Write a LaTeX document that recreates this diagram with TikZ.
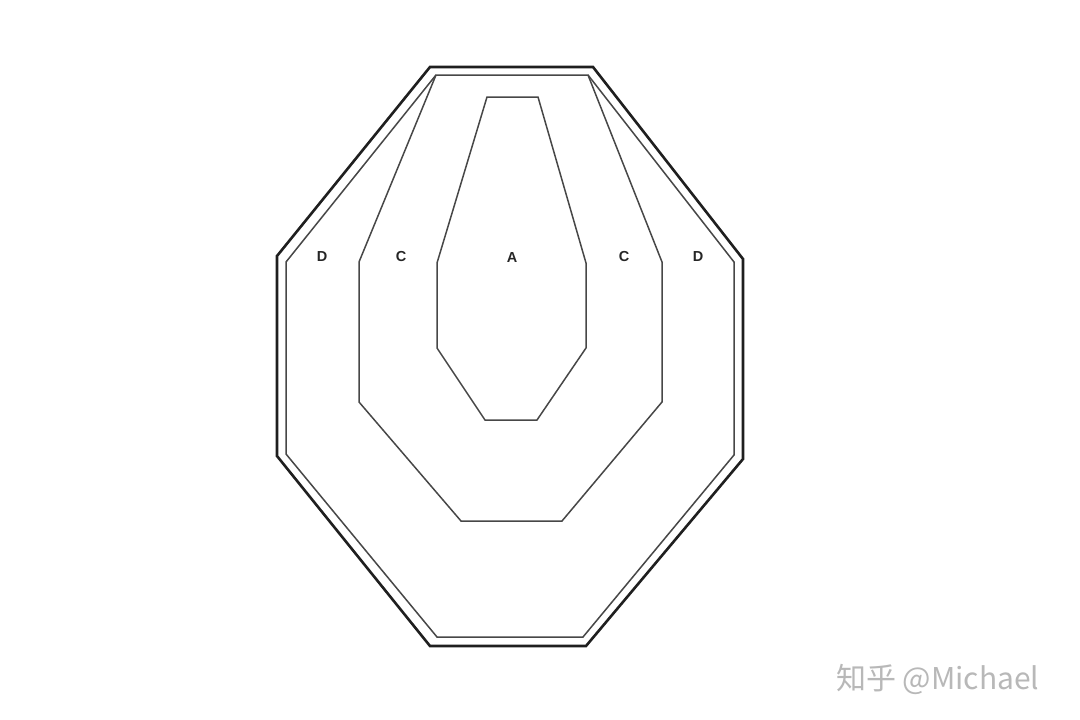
\documentclass[tikz,border=0pt]{standalone}
\usepackage{fontspec}
\setmainfont{Liberation Sans}
\newfontfamily\cjk{Noto Sans CJK SC}
\begin{document}
\begin{tikzpicture}[x=1pt,y=-1pt,
  outerline/.style={line width=2.6pt,draw=black!88,line join=miter},
  thinline/.style={line width=1.5pt,draw=black!72,line join=miter},
  zonelabel/.style={font=\bfseries\fontsize{14.5}{14.5}\selectfont,text=black!85,inner sep=0pt},
  wm/.style={font=\cjk\fontsize{30}{30}\selectfont,text=black!28,inner sep=0pt,anchor=west}]
\useasboundingbox[fill=white] (0,0) rectangle (1080,720);
% outer octagon
\draw[outerline] (430,67) -- (593,67) -- (743,259) -- (743,459) -- (586,646) -- (430,646) -- (277,456) -- (277,256) -- cycle;
% inner octagon
\coordinate (itl) at (436,75);
\coordinate (itr) at (588,75);
\draw[thinline] (itl) -- (itr) -- (734,262) -- (734,455) -- (583,637) -- (437,637) -- (286,454) -- (286,262) -- cycle;
% C zone
\draw[thinline] (itl) -- (359,262) -- (359,402) -- (461,521) -- (562,521) -- (662,402) -- (662,262) -- (itr);
% A zone
\draw[thinline] (487,97) -- (538,97) -- (586,263) -- (586,348) -- (537,420) -- (485,420) -- (437,348) -- (437,263) -- cycle;
% labels
\node[zonelabel] (dl) at (322,257) {D};
\node[zonelabel] (cl) at (401,257) {C};
\node[zonelabel] (al) at (512,258) {A};
\node[zonelabel] (cr) at (624,257) {C};
\node[zonelabel] (dr) at (698,257) {D};
% watermark
\node[wm] (wmk) at (836,679) {知乎 @Michael};
\end{tikzpicture}
\end{document}
